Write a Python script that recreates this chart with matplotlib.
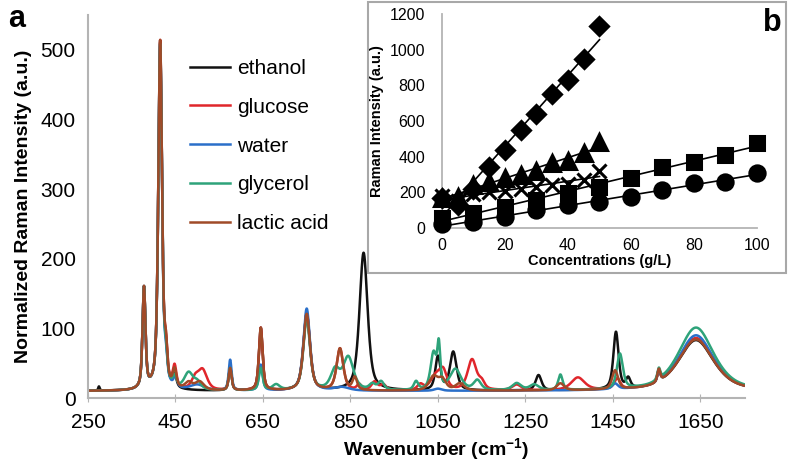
import numpy as np
import matplotlib
matplotlib.use("Agg")
import matplotlib.pyplot as plt
from matplotlib.patches import Rectangle

plt.rcParams['font.family'] = ['Liberation Sans', 'DejaVu Sans']

# ---- panel a: Raman spectra, described as peak tables
# (centre cm-1, height a.u., half width cm-1)
baseline = 10

ethanol_pk = [275, 378, 415, 428, 448, 575, 645, 750, 880, 1050, 1085, 1280, 1457, 1485, 1555, 1640]
ethanol_ht = [6, 145, 500, 40, 18, 32, 90, 110, 198, 48, 55, 22, 82, 14, 16, 73]
ethanol_wd = [2, 4, 5, 4, 5, 4, 5, 9, 11, 7, 9, 8, 7, 6, 4, 48]

glucose_pk = [378, 415, 428, 448, 495, 512, 575, 645, 750, 826, 870, 905, 925, 1010, 1045, 1062, 1128, 1150, 1230, 1370, 1460, 1555, 1640]
glucose_ht = [145, 500, 45, 30, 15, 28, 32, 90, 110, 60, 8, 12, 8, 8, 20, 25, 44, 10, 8, 18, 15, 16, 76]
glucose_wd = [4, 5, 4, 5, 10, 12, 4, 5, 9, 9, 6, 8, 8, 8, 14, 10, 12, 8, 12, 18, 8, 4, 48]

water_pk = [378, 415, 428, 450, 500, 575, 645, 750, 830, 1050, 1455, 1555, 1640]
water_ht = [145, 495, 30, 15, 8, 44, 37, 118, 5, 3, 8, 16, 80]
water_wd = [4, 5, 4, 5, 20, 4, 5, 9, 20, 10, 8, 4, 48]

glycerol_pk = [378, 415, 428, 448, 480, 500, 575, 645, 680, 750, 815, 845, 900, 920, 1000, 1040, 1052, 1090, 1140, 1230, 1270, 1330, 1466, 1555, 1640]
glycerol_ht = [145, 495, 35, 15, 24, 10, 32, 32, 8, 102, 28, 47, 8, 12, 12, 52, 58, 30, 14, 10, 8, 22, 50, 16, 91]
glycerol_wd = [4, 5, 4, 5, 12, 10, 4, 5, 10, 9, 12, 14, 8, 8, 6, 8, 4, 15, 10, 12, 12, 6, 8, 4, 48]

lactic_pk = [378, 415, 428, 448, 480, 505, 575, 645, 750, 826, 860, 1040, 1060, 1100, 1330, 1455, 1555, 1640]
lactic_ht = [145, 500, 45, 25, 10, 12, 32, 90, 110, 60, 18, 20, 15, 10, 10, 27, 18, 74]
lactic_wd = [4, 5, 4, 5, 10, 12, 4, 5, 9, 9, 6, 12, 10, 12, 10, 8, 4, 48]

names = ['ethanol', 'glucose', 'water', 'glycerol', 'lactic acid']
colors = ['#111111', '#e0262b', '#2a6fc9', '#2ea37a', '#a04a28']
peak_tables = [(ethanol_pk, ethanol_ht, ethanol_wd),
               (glucose_pk, glucose_ht, glucose_wd),
               (water_pk, water_ht, water_wd),
               (glycerol_pk, glycerol_ht, glycerol_wd),
               (lactic_pk, lactic_ht, lactic_wd)]

# ---- panel b: calibration points
conc_low = [0, 5, 10, 15, 20, 25, 30, 35, 40, 45, 50]
conc_high = [0, 10, 20, 30, 40, 50, 60, 70, 80, 90, 100]
diamond_vals = [170, 130, 220, 340, 440, 550, 640, 750, 830, 950, 1130]
triangle_vals = [170, 175, 240, 260, 280, 300, 320, 365, 375, 420, 480]
cross_vals = [180, 150, 190, 200, 210, 220, 230, 240, 245, 270, 320]
square_vals = [56, 84, 118, 158, 197, 231, 282, 344, 372, 411, 479]
circle_vals = [20, 34, 62, 101, 130, 147, 175, 214, 253, 259, 310]


def spectrum(wn, pk, ht, wd, eta=0.6):
    # pseudo-Voigt band shapes on a flat baseline
    y = np.full_like(wn, baseline, dtype=float)
    for c, h, w in zip(pk, ht, wd):
        lor = w ** 2 / ((wn - c) ** 2 + w ** 2)
        gau = np.exp(-np.log(2) * ((wn - c) / w) ** 2)
        y += h * (eta * lor + (1 - eta) * gau)
    return y


fig = plt.figure(figsize=(7.88, 4.68), dpi=100)
ax = fig.add_axes([88 / 788, 1 - 398 / 468, (745 - 88) / 788, (398 - 15) / 468])

wn = np.arange(250, 1751, 0.5)
for name, col, (pk, ht, wd) in zip(names, colors, peak_tables):
    ax.plot(wn, spectrum(wn, pk, ht, wd), color=col, lw=1.8, label=name)

ax.set_xlim(250, 1752)
ax.set_ylim(0, 550)
ax.set_xticks([250, 450, 650, 850, 1050, 1250, 1450, 1650])
ax.set_yticks([0, 100, 200, 300, 400, 500])
for s in ['top', 'right']:
    ax.spines[s].set_visible(False)
for s in ['left', 'bottom']:
    ax.spines[s].set_color('#b4b4b4')
    ax.spines[s].set_linewidth(1.5)
ax.tick_params(axis='x', direction='inout', length=6, color='#b4b4b4', labelsize=15, pad=8)
ax.tick_params(axis='y', length=0, labelsize=15, pad=9)
ax.set_ylabel('Normalized Raman Intensity (a.u.)', fontsize=14, fontweight='bold', labelpad=6)
ax.set_xlabel('Wavenumber (cm$^{\\mathregular{-1}}$)', fontsize=14, fontweight='bold')
ax.xaxis.set_label_coords(0.53, -0.1)

fig.legend(loc='upper left', bbox_to_anchor=(190 / 788, 1 - 59 / 468), frameon=False,
           fontsize=15, handlelength=1.9, handletextpad=0.35, labelspacing=0.95,
           borderpad=0, borderaxespad=0)

fig.text(8 / 788, 1 - 4 / 468, 'a', fontsize=22, fontweight='bold', va='top', ha='left')

# inset frame
fig.patches.append(Rectangle((368 / 788, 1 - 273 / 468), (786 - 368) / 788, (273 - 2) / 468,
                             transform=fig.transFigure, facecolor='white', edgecolor='#a8a8a8',
                             lw=1.5, zorder=5))

ins = fig.add_axes([442 / 788, 1 - 228 / 468, (757 - 442) / 788, (228 - 14) / 468], zorder=6)
ins.patch.set_alpha(0)

series_b = [(conc_low, diamond_vals, 'D', 9.5),
            (conc_low, triangle_vals, '^', 11),
            (conc_low, cross_vals, 'x', 10.5),
            (conc_high, square_vals, 's', 10.5),
            (conc_high, circle_vals, 'o', 11)]
for xs, ys, mk, ms in series_b:
    xs = np.array(xs)
    fit = np.polyfit(xs, ys, 1)
    ins.plot([xs[0], xs[-1]], np.polyval(fit, [xs[0], xs[-1]]), color='black', lw=1.2, zorder=2)
    ins.plot(xs, ys, linestyle='none', marker=mk, ms=ms, color='black', mew=2.2,
             clip_on=False, zorder=3)

ins.set_xlim(0, 100)
ins.set_ylim(0, 1200)
ins.set_xticks([0, 20, 40, 60, 80, 100])
ins.set_yticks([0, 200, 400, 600, 800, 1000, 1200])
for s in ['top', 'right']:
    ins.spines[s].set_visible(False)
for s in ['left', 'bottom']:
    ins.spines[s].set_color('#b4b4b4')
    ins.spines[s].set_linewidth(1.3)
ins.tick_params(length=0, labelsize=11.5)
ins.tick_params(axis='x', pad=7)
ins.tick_params(axis='y', pad=12)
ins.set_ylabel('Raman Intensity (a.u.)', fontsize=10.5, fontweight='bold', labelpad=4)
ins.set_xlabel('Concentrations (g/L)', fontsize=10.5, fontweight='bold', labelpad=1)

fig.text(782 / 788, 1 - 8 / 468, 'b', fontsize=22, fontweight='bold', va='top', ha='right', zorder=7)

fig.savefig('out.png', dpi=100)
